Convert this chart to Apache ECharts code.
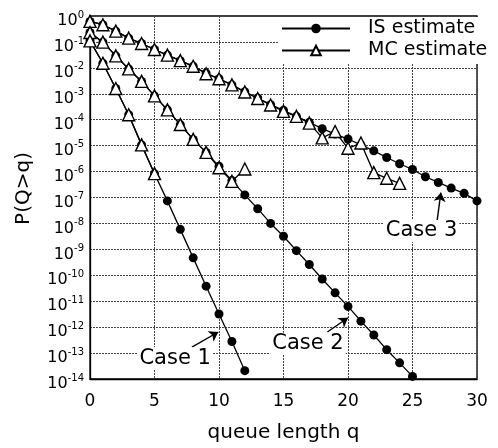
<!DOCTYPE html>
<html>
<head>
<meta charset="utf-8">
<script src="https://cdn.jsdelivr.net/npm/echarts@6/dist/echarts.min.js"></script>
<style>
  html, body { margin: 0; padding: 0; background: #fff; }
  #chart { width: 498px; height: 448px; }
</style>
</head>
<body>
<div id="chart"></div>
<script>
// P(Q>q), one value per q = 0, 1, 2, ...
const case1IS = [1.1e-1, 1.5e-2, 1.6e-3, 1.55e-4, 1.07e-5, 8.3e-7, 7.4e-8, 5.9e-9, 4.7e-10, 3.8e-11, 3.2e-12, 2.8e-13, 2.1e-14]
const case1MC = [1.1e-1, 1.5e-2, 1.6e-3, 1.55e-4, 1.07e-5, 8.3e-7]

const case2IS = [2.3e-1, 9.8e-2, 2.9e-2, 9.1e-3, 3.0e-3, 8.3e-4, 2.4e-4, 6.5e-5, 1.74e-5, 5.5e-6,
  1.6e-6, 4.5e-7, 1.26e-7, 3.7e-8, 1.0e-8, 3.2e-9, 8.9e-10, 2.6e-10, 7.2e-11, 2.1e-11,
  6.3e-12, 1.7e-12, 5.0e-13, 1.35e-13, 4.2e-14, 1.26e-14]
const case2MC = [2.3e-1, 9.8e-2, 2.9e-2, 9.1e-3, 3.0e-3, 8.3e-4, 2.4e-4, 6.5e-5, 1.74e-5, 5.5e-6,
  1.4e-6, 4.2e-7, 1.26e-6]

const case3IS = [6.2e-1, 4.6e-1, 2.6e-1, 1.4e-1, 8.7e-2, 5.1e-2, 3.1e-2, 1.9e-2, 1.15e-2, 6.3e-3,
  3.8e-3, 2.2e-3, 1.2e-3, 6.9e-4, 3.8e-4, 2.3e-4, 1.35e-4, 7.9e-5, 4.5e-5, 2.8e-5,
  1.8e-5, 1.07e-5, 6.3e-6, 3.5e-6, 2.0e-6, 1.2e-6, 6.3e-7, 3.8e-7, 2.3e-7, 1.45e-7, 7.4e-8]
const case3MC = [6.2e-1, 4.6e-1, 2.6e-1, 1.4e-1, 8.7e-2, 5.1e-2, 3.1e-2, 1.9e-2, 1.15e-2, 5.9e-3,
  3.8e-3, 2.2e-3, 1.17e-3, 6.6e-4, 3.7e-4, 2.1e-4, 1.35e-4, 7.4e-5, 2.0e-5, 3.5e-5,
  7.9e-6, 1.26e-5, 9.1e-7, 5.5e-7, 3.5e-7]

const legendNames = ['IS estimate', 'MC estimate']

// case annotations, in data coordinates [q, P]
const caseNames = ['Case 1', 'Case 2', 'Case 3']
const caseTextAt = [[6.6, 6.3e-14], [16.9, 2.3e-13], [25.7, 5.1e-9]]
const arrowFrom = [[7.9, 1.7e-13], [18.4, 6.5e-13], [26.9, 1.2e-8]]
const arrowTo = [[9.95, 6.5e-13], [20.0, 2.3e-12], [27.2, 1.55e-7]]

const font = 'DejaVu Sans'

function toPairs(vals) {
    return vals.map((v, q) => [q, v])
}

function caseSeries(name, vals, isMC) {
    return {
        name: name,
        type: 'line',
        data: toPairs(vals),
        symbol: isMC ? 'triangle' : 'circle',
        symbolSize: isMC ? 12 : 9,
        showAllSymbol: true,
        lineStyle: { color: '#000', width: 1.3 },
        itemStyle: {
            color: isMC ? '#fff' : '#000',
            borderColor: '#000',
            borderWidth: isMC ? 1.4 : 0
        },
        z: isMC ? 4 : 3,
        animation: false
    }
}

const chart = echarts.init(document.getElementById('chart'))

const option = {
    backgroundColor: '#fff',
    animation: false,
    grid: {
        left: 90, right: 21, top: 16, bottom: 62,
        show: true, borderColor: '#000', borderWidth: 1.3
    },
    legend: {
        data: legendNames,
        orient: 'vertical',
        left: 279,
        top: 17,
        itemWidth: 68,
        itemHeight: 12,
        itemGap: 3,
        padding: [2, 4, 4, 2],
        backgroundColor: '#fff',
        textStyle: { fontFamily: font, fontSize: 19, color: '#000', padding: [0, 0, 0, 13] }
    },
    xAxis: {
        type: 'value',
        min: 0, max: 30, interval: 5,
        name: 'queue length q',
        nameLocation: 'middle',
        nameGap: 44,
        nameTextStyle: { fontFamily: font, fontSize: 20, color: '#000' },
        axisLine: { show: true, lineStyle: { color: '#000', width: 1.3 } },
        axisTick: { show: false },
        axisLabel: { fontFamily: font, fontSize: 17, color: '#000', margin: 14 },
        splitLine: { show: true, lineStyle: { color: '#444', width: 1, type: [2, 1] } }
    },
    yAxis: {
        type: 'log',
        logBase: 10,
        min: 1e-14, max: 1,
        interval: 1,
        splitNumber: 14,
        name: 'P(Q>q)',
        nameLocation: 'middle',
        nameGap: 56,
        nameRotate: 90,
        nameTextStyle: { fontFamily: font, fontSize: 20, color: '#000', padding: [0, 0, 0, 18] },
        axisLine: { show: true, lineStyle: { color: '#000', width: 1.3 } },
        axisTick: { show: false },
        axisLabel: {
            margin: 6,
            padding: [6, 0, 0, 0],
            formatter: function (v) {
                const e = Math.round(Math.log10(v))
                return '{b|10}{s|' + e + '}'
            },
            rich: {
                b: { fontFamily: font, fontSize: 16, color: '#000', lineHeight: 18, padding: [4, 0, 0, 0] },
                s: { fontFamily: font, fontSize: 10, color: '#000', lineHeight: 10, verticalAlign: 'top' }
            }
        },
        splitLine: { show: true, lineStyle: { color: '#444', width: 1, type: [2, 1] } }
    },
    series: [
        caseSeries('IS estimate', case3IS, false),
        caseSeries('IS estimate', case2IS, false),
        caseSeries('IS estimate', case1IS, false),
        caseSeries('MC estimate', case3MC, true),
        caseSeries('MC estimate', case2MC, true),
        caseSeries('MC estimate', case1MC, true),
        {
            name: 'notes',
            type: 'line',
            data: [],
            silent: true,
            z: 5,
            markLine: {
                silent: true,
                animation: false,
                symbol: ['none', 'arrow'],
                symbolSize: 9,
                label: { show: false },
                lineStyle: { color: '#000', width: 1.4, type: 'solid' },
                data: caseNames.map((n, i) => [{ coord: arrowFrom[i] }, { coord: arrowTo[i] }])
            },
            markPoint: {
                silent: true,
                animation: false,
                symbol: 'rect',
                symbolSize: 1,
                itemStyle: { color: 'rgba(0,0,0,0)' },
                label: {
                    show: true,
                    position: 'inside',
                    formatter: '{b}',
                    fontFamily: font,
                    fontSize: 21,
                    color: '#000',
                    backgroundColor: '#fff',
                    padding: [1, 2, 0, 2]
                },
                data: caseNames.map((n, i) => ({ name: n, coord: caseTextAt[i] }))
            }
        }
    ]
}

chart.setOption(option)
</script>
</body>
</html>
